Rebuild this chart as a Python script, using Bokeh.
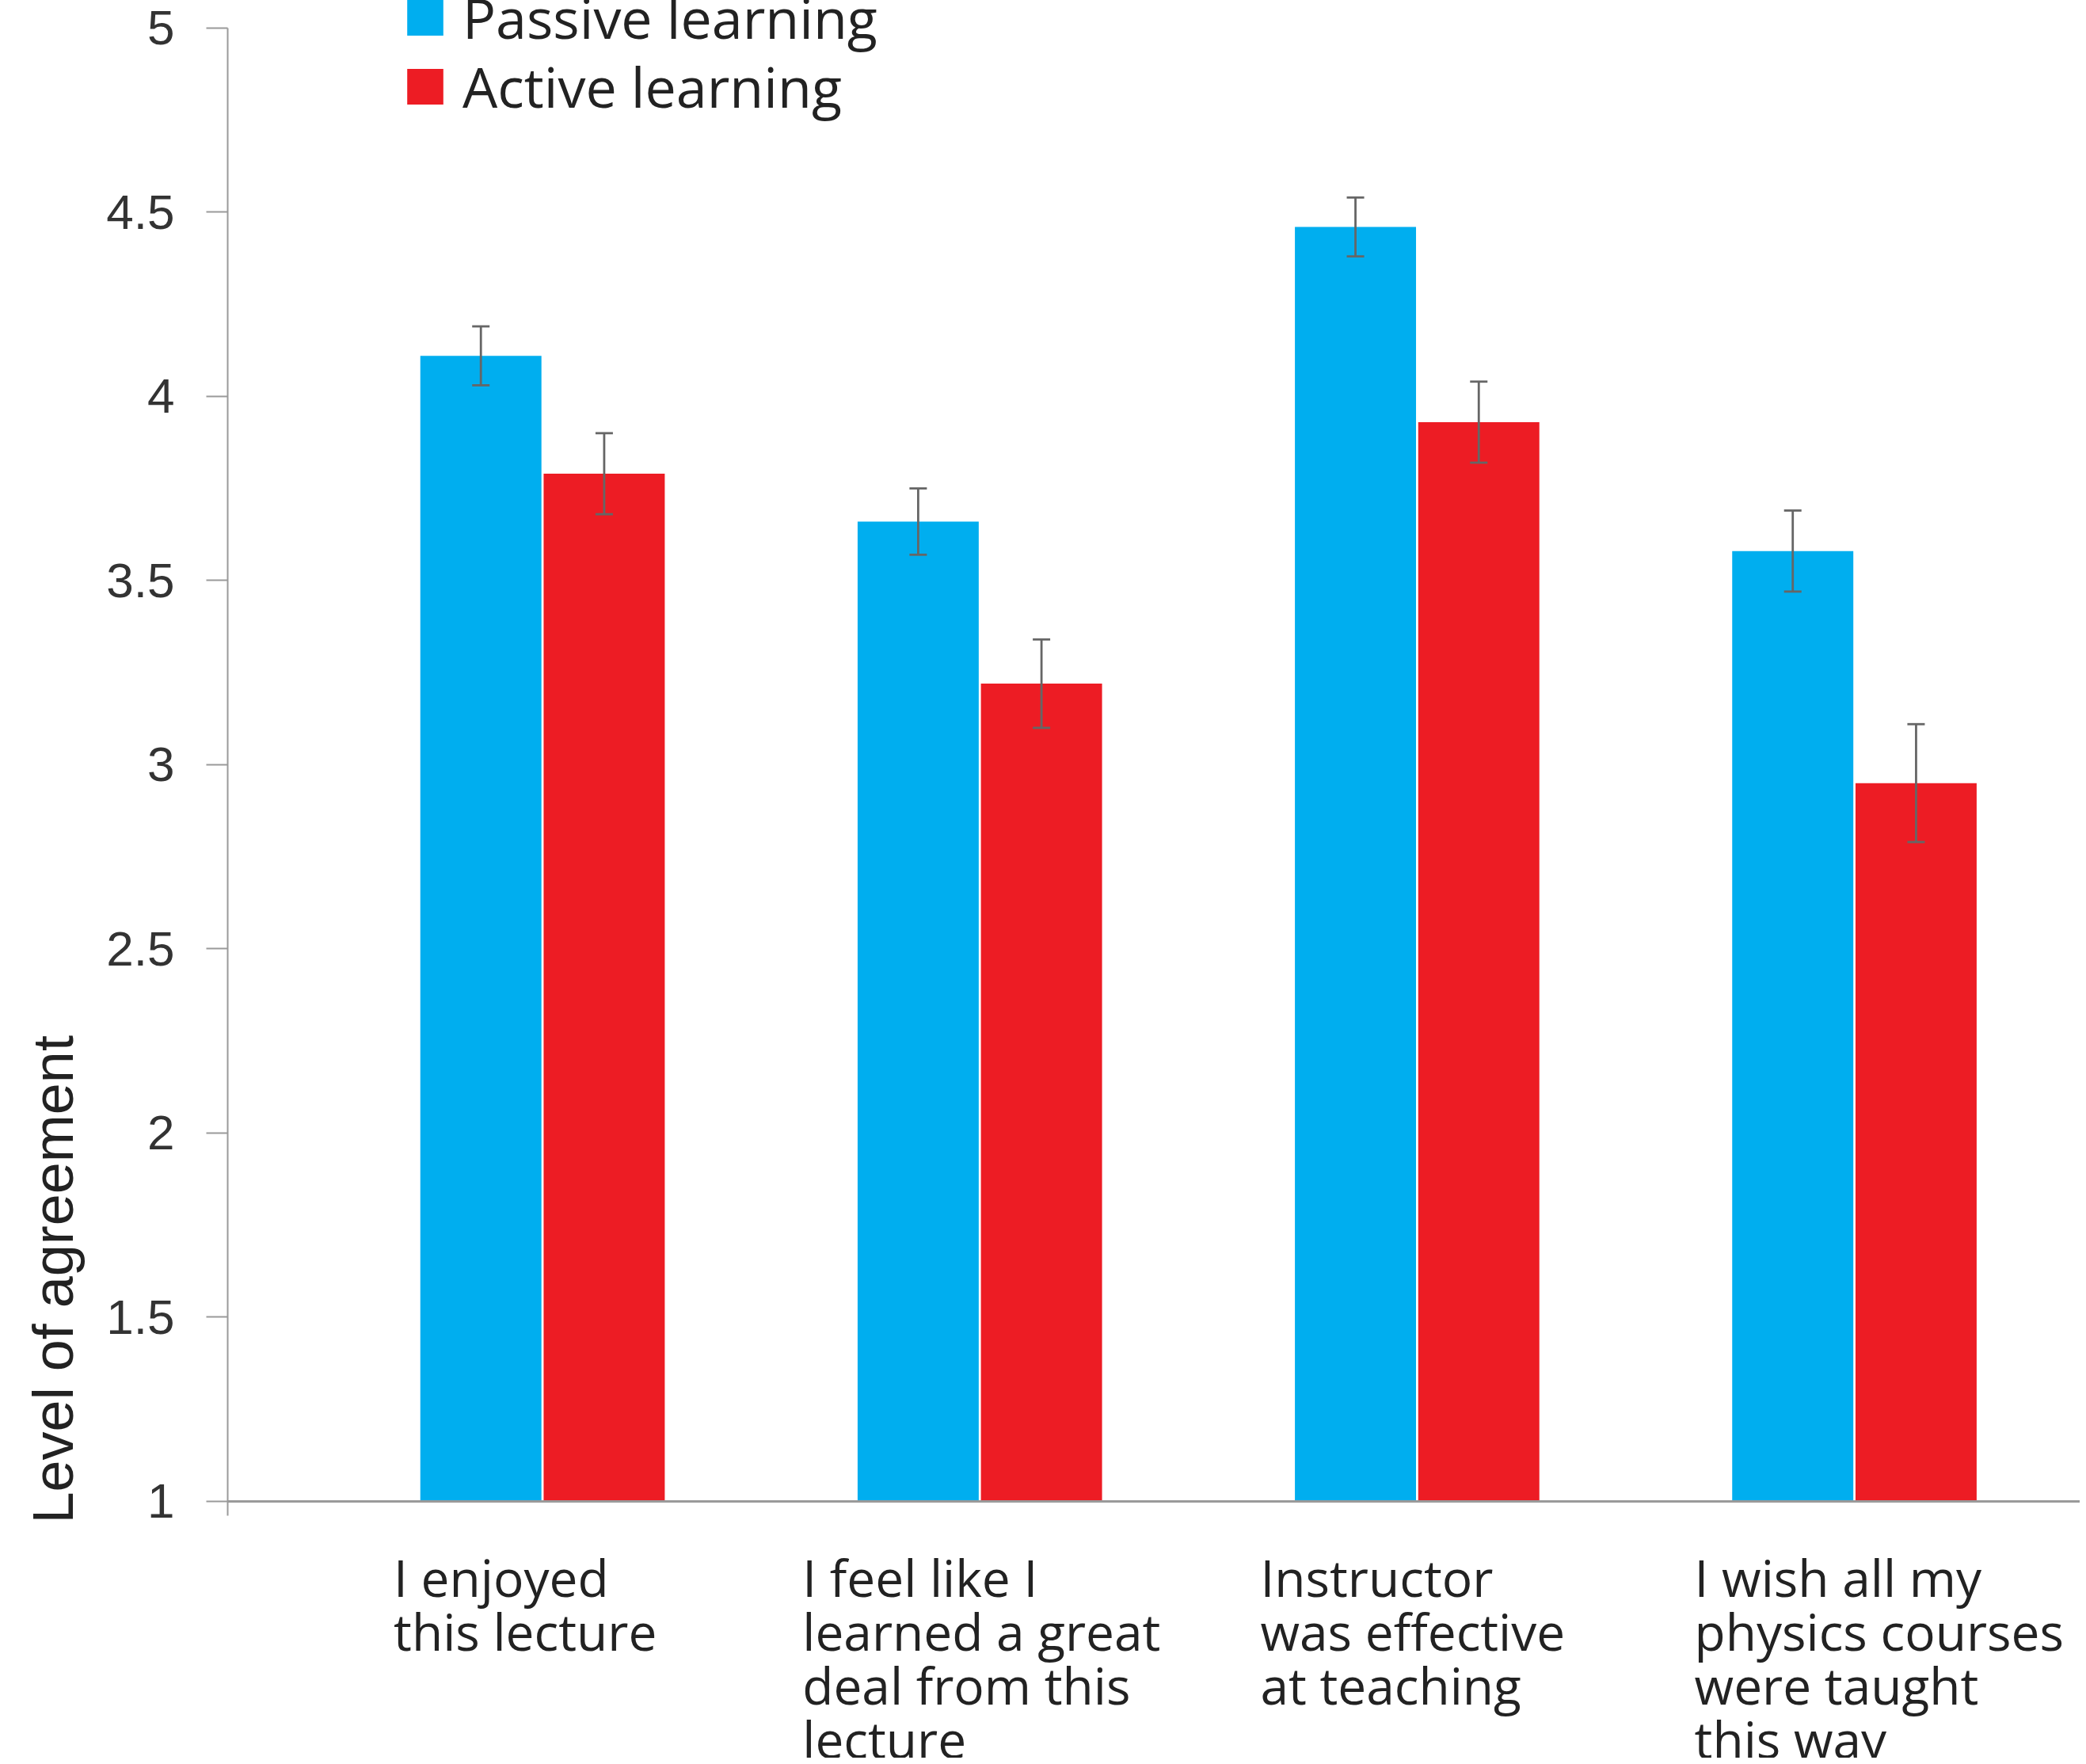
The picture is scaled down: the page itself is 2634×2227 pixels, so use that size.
from bokeh.plotting import figure
from bokeh.models import (ColumnDataSource, Range1d, Span, Whisker, TeeHead, Legend,
                          LegendItem, FixedTicker, Title)
from bokeh.core.properties import value
from bokeh.transform import dodge
from bokeh.embed import file_html
from bokeh.resources import INLINE

# ---------------- data ----------------
categories = [
    "I enjoyed\nthis lecture",
    "I feel like I\nlearned a great\ndeal from this\nlecture",
    "Instructor\nwas effective\nat teaching",
    "I wish all my\nphysics courses\nwere taught\nthis way",
]
series_names = ["Passive learning", "Active learning"]
passive = [4.11, 3.66, 4.46, 3.58]
passive_err = [0.08, 0.09, 0.08, 0.11]
active = [3.79, 3.22, 3.93, 2.95]
active_err = [0.11, 0.12, 0.11, 0.16]
y_ticks = [1, 1.5, 2, 2.5, 3, 3.5, 4, 4.5, 5]
y_tick_labels = ["1", "1.5", "2", "2.5", "3", "3.5", "4", "4.5", "5"]
y_title = "Level of agreement"

# ---------------- layout / style ----------------
BLUE = "#00AEEF"
RED = "#ED1C24"
AXIS = "#9a9a9a"
ERR = "#666666"
TXT = "#222222"
label_dx = [-188, -224, -198, -202]   # px shift of each category caption
legend_tops = [2149, 2062]             # px position of each legend row

idx = list(range(len(categories)))
src = ColumnDataSource(dict(
    idx=idx, label=categories, dx=label_dx,
    passive=passive, active=active,
    p_up=[v + e for v, e in zip(passive, passive_err)],
    p_lo=[v - e for v, e in zip(passive, passive_err)],
    a_up=[v + e for v, e in zip(active, active_err)],
    a_lo=[v - e for v, e in zip(active, active_err)],
))

W, H = 2626, 2219
p = figure(width=W, height=H, output_backend="svg", toolbar_location=None,
           x_range=Range1d(-0.72, 3.516), y_range=Range1d(0.303, 5.075),
           min_border_left=287, min_border_right=0, min_border_top=0,
           min_border_bottom=0)
p.outline_line_color = None
p.xgrid.visible = False
p.ygrid.visible = False
p.xaxis.visible = False
p.background_fill_color = "white"
p.border_fill_color = "white"

OFF = 0.141
BW = 0.277
r1 = p.vbar(x=dodge("idx", -OFF), top="passive", bottom=1, width=BW,
            fill_color=BLUE, line_color=None, source=src)
r2 = p.vbar(x=dodge("idx", OFF), top="active", bottom=1, width=BW,
            fill_color=RED, line_color=None, source=src)

for off, up, lo in [(-OFF, "p_up", "p_lo"), (OFF, "a_up", "a_lo")]:
    w = Whisker(base=dodge("idx", off), upper=up, lower=lo, source=src,
                line_color=ERR, line_width=2.8, level="overlay",
                upper_head=TeeHead(size=22, line_color=ERR, line_width=2.8),
                lower_head=TeeHead(size=22, line_color=ERR, line_width=2.8))
    p.add_layout(w)

# x baseline at y = 1
p.add_layout(Span(location=1, dimension="width", line_color=AXIS, line_width=3))

# y axis
ax = p.yaxis[0]
ax.bounds = (0.96, 5)
ax.ticker = FixedTicker(ticks=y_ticks)
ax.major_label_overrides = {float(t): s for t, s in zip(y_ticks, y_tick_labels)}
ax.axis_line_color = AXIS
ax.axis_line_width = 2
ax.major_tick_line_color = AXIS
ax.major_tick_line_width = 2
ax.major_tick_out = 27
ax.major_tick_in = 0
ax.minor_tick_out = 0
ax.minor_tick_in = 0
ax.major_label_standoff = 40
ax.major_label_text_font = "Liberation Sans"
ax.major_label_text_font_size = "62px"
ax.major_label_text_color = "#333333"

# y title as a left-side title, starting near the baseline
p.add_layout(Title(text=y_title, align="left", vertical_align="top", offset=296,
                   standoff=46, text_font="Liberation Sans", text_font_size="72px",
                   text_font_style="normal", text_color=TXT), "left")

# category captions (left-aligned, multi-line)
p.text(x="idx", y=1, x_offset="dx", y_offset=53, text="label", source=src,
       text_align="left", text_baseline="top", text_font=value("Open Sans"),
       text_font_size="64px", text_line_height=0.78, text_color=TXT)

# legend: one single-row legend per series, stacked at the top left
for name, rend, top in zip(series_names, [r1, r2], legend_tops):
    lg = Legend(items=[LegendItem(label=name, renderers=[rend])],
                location=(221, top), orientation="vertical",
                glyph_width=57, glyph_height=56, label_height=56,
                label_standoff=19, spacing=0, padding=0, margin=0,
                border_line_color=None, background_fill_alpha=0,
                label_text_font="Open Sans", label_text_font_size="70px",
                label_text_color=TXT)
    p.add_layout(lg)

open("out.html", "w").write(file_html(p, INLINE))
